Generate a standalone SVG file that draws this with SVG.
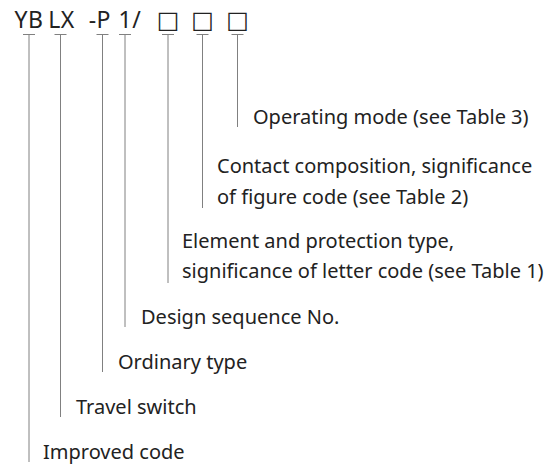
<svg xmlns="http://www.w3.org/2000/svg" width="560" height="469" viewBox="0 0 560 469">
<style>
.hd{font-family:"Noto Sans","Open Sans","DejaVu Sans",sans-serif;font-size:23px;letter-spacing:0.5px;fill:#222}
.bx{font-family:"DejaVu Sans",sans-serif;font-size:24px;fill:#222}
.lb{font-family:"Noto Sans","Open Sans",sans-serif;font-size:20px;fill:#222}
.ln{stroke:#808080;stroke-width:1;fill:none}
</style>
<rect width="560" height="469" fill="#fff"/>
<g id="code">
<text class="hd" x="29" y="27.5" text-anchor="middle">YB</text>
<text class="hd" x="61.5" y="27.5" text-anchor="middle">LX</text>
<text class="hd" x="111" y="27.5" text-anchor="end">-P</text>
<text class="hd" x="118.5" y="27.5">1/</text>
<text class="bx" x="168" y="27.5" text-anchor="middle">□</text>
<text class="bx" x="202.5" y="27.5" text-anchor="middle">□</text>
<text class="bx" x="237.5" y="27.5" text-anchor="middle">□</text>
</g>
<g id="connectors">
<path class="ln" d="M23 34.5h12M29 34.5V462"/>
<path class="ln" d="M54.5 34.5h12M60.5 34.5V417"/>
<path class="ln" d="M96.5 34.5h12M102.5 34.5V372"/>
<path class="ln" d="M119 34.5h12M125 34.5V327"/>
<path class="ln" d="M162 34.5h12M168 34.5V283"/>
<path class="ln" d="M196.5 34.5h12M202.5 34.5V208"/>
<path class="ln" d="M231.5 34.5h12M237.5 34.5V127"/>
</g>
<g id="n-operating"><text class="lb" x="253" y="124">Operating mode (see Table 3)</text></g>
<g id="n-contact"><text class="lb" x="217" y="173">Contact composition, significance</text><text class="lb" x="217" y="204">of figure code (see Table 2)</text></g>
<g id="n-element"><text class="lb" x="182" y="248">Element and protection type,</text><text class="lb" x="182" y="278">significance of letter code (see Table 1)</text></g>
<g id="n-design"><text class="lb" x="141" y="324">Design sequence No.</text></g>
<g id="n-ordinary"><text class="lb" x="118" y="369">Ordinary type</text></g>
<g id="n-travel"><text class="lb" x="76" y="414">Travel switch</text></g>
<g id="n-improved"><text class="lb" x="43" y="459">Improved code</text></g>
</svg>
